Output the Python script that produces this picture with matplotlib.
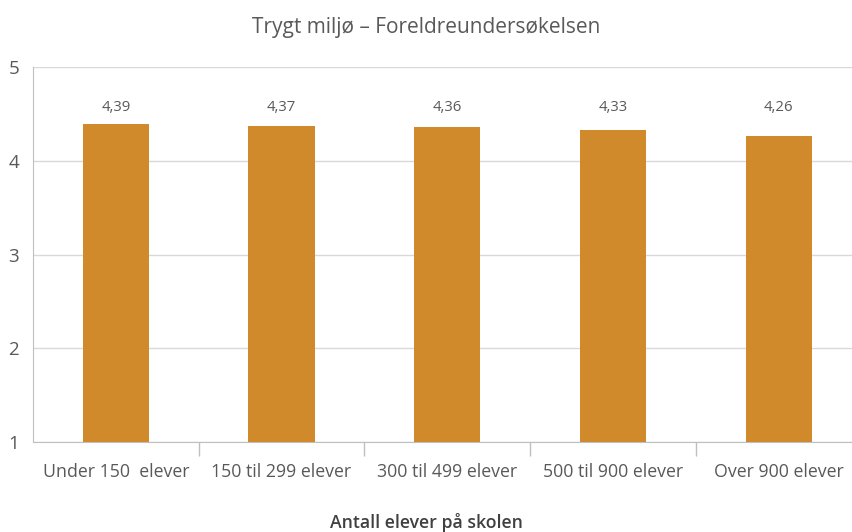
import matplotlib.pyplot as plt

categories = ["Under 150  elever", "150 til 299 elever", "300 til 499 elever",
              "500 til 900 elever", "Over 900 elever"]
values = [4.39, 4.37, 4.36, 4.33, 4.26]
value_labels = ["4,39", "4,37", "4,36", "4,33", "4,26"]
yticks = [1, 2, 3, 4, 5]

plt.rcParams["font.family"] = ["Open Sans", "DejaVu Sans"]

fig = plt.figure(figsize=(8.52, 5.32), dpi=100)
ax = fig.add_axes([33 / 852, 1 - 442 / 532, 828.5 / 852, 375 / 532])

x = list(range(len(categories)))
ax.bar(x, [v - 1 for v in values], bottom=1, width=0.4, color="#D0892B", zorder=3)
# value labels sit on one common row above the bars
for xi, lab in zip(x, value_labels):
    ax.text(xi, 4.57, lab, ha="center", va="center", fontsize=10.7, color="#595959")

ax.set_xlim(-0.5, len(categories) - 0.5)
ax.set_ylim(1, 5)
ax.set_yticks(yticks)
ax.set_yticklabels([str(t) for t in yticks], fontsize=13.5, color="#595959")
ax.yaxis.grid(True, color="#d9d9d9", linewidth=1, zorder=0)
ax.tick_params(axis="y", length=0, pad=10)

ax.set_xticks(x)
ax.set_xticklabels(categories, fontsize=12.8, color="#595959")
ax.tick_params(axis="x", length=0, pad=15)
ax.set_xticks([i + 0.5 for i in x[:-1]], minor=True)
ax.tick_params(axis="x", which="minor", length=10, color="#bfbfbf", width=1)

for side in ["top", "right"]:
    ax.spines[side].set_visible(False)
ax.spines["left"].set_color("#bfbfbf")
ax.spines["bottom"].set_color("#bfbfbf")

fig.text(0.5, 1 - 522 / 532, "Antall elever på skolen", ha="center", va="center",
         fontsize=12.7, color="#404040", fontweight="semibold")
fig.text(0.5, 1 - 28 / 532, "Trygt miljø – Foreldreundersøkelsen", ha="center",
         va="center", fontsize=15, color="#595959", fontweight="medium")

fig.savefig("out.png", dpi=100)
